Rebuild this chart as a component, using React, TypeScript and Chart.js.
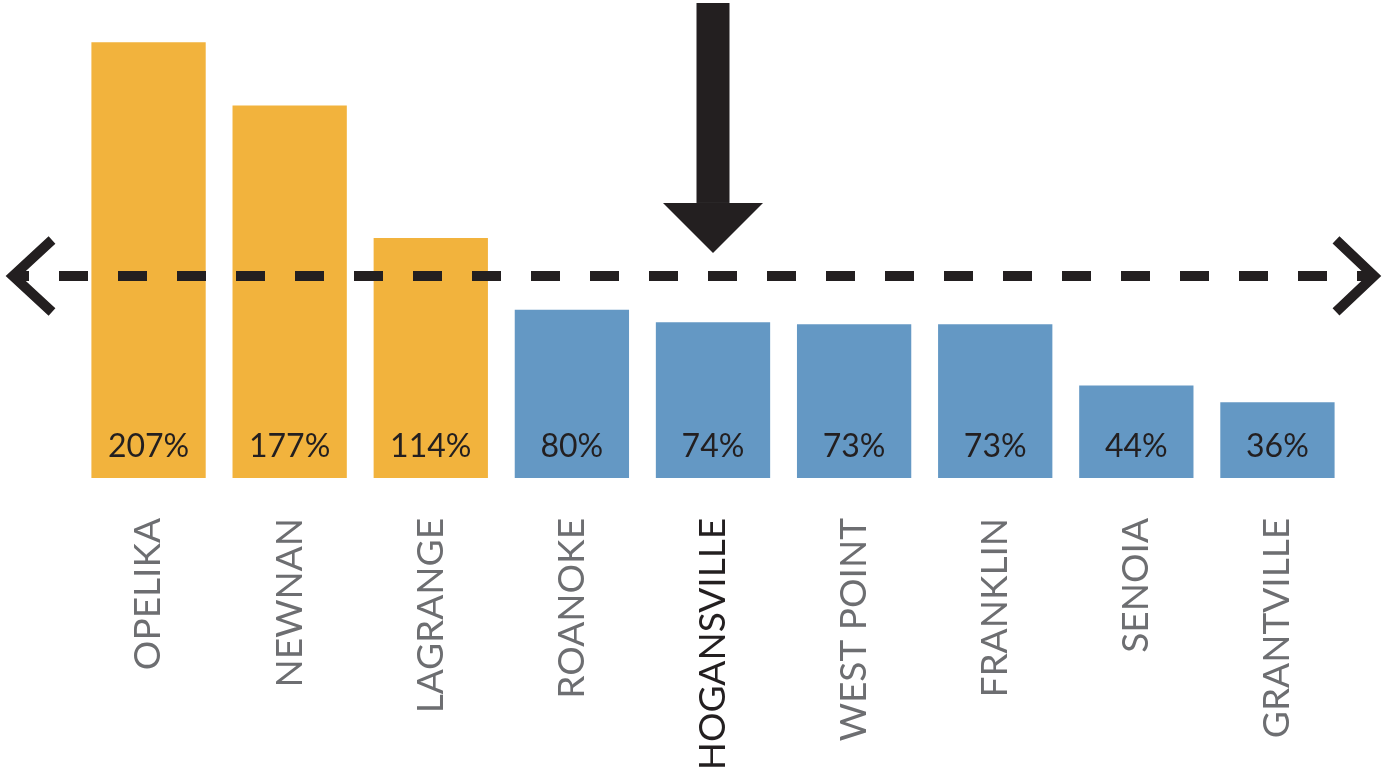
import React, { useEffect, useRef } from "react";
import { Chart, registerables } from "chart.js";

Chart.register(...registerables);

const cities = [
  "OPELIKA",
  "NEWNAN",
  "LAGRANGE",
  "ROANOKE",
  "HOGANSVILLE",
  "WEST POINT",
  "FRANKLIN",
  "SENOIA",
  "GRANTVILLE",
];
const growth = [207, 177, 114, 80, 74, 73, 73, 44, 36];
const valueLabels = ["207%", "177%", "114%", "80%", "74%", "73%", "73%", "44%", "36%"];
const ORANGE = "#F2B33D";
const BLUE = "#6498C4";
const barColors = [ORANGE, ORANGE, ORANGE, BLUE, BLUE, BLUE, BLUE, BLUE, BLUE];
const referenceValue = 96;
const highlightIndex = 4;

const INK = "#231F20";
const LABEL_GRAY = "#6D6E71";

const overlayPlugin = {
  id: "overlay",
  afterDatasetsDraw(chart: any) {
    const ctx = chart.ctx;
    const meta = chart.getDatasetMeta(0);
    const y0 = chart.scales.y.getPixelForValue(0);
    ctx.save();
    ctx.fillStyle = INK;
    ctx.font = "32px Lato";
    ctx.textAlign = "center";
    ctx.textBaseline = "middle";
    meta.data.forEach((bar: any, i: number) => {
      ctx.fillText(valueLabels[i], bar.x, y0 - 31);
    });
    ctx.restore();
  },
  afterDraw(chart: any) {
    const ctx = chart.ctx;
    const W = chart.width;
    const yRef = chart.scales.y.getPixelForValue(referenceValue);
    ctx.save();
    ctx.strokeStyle = INK;
    ctx.fillStyle = INK;
    // dashed reference line
    ctx.lineWidth = 10;
    ctx.setLineDash([29, 30]);
    ctx.lineDashOffset = 18;
    ctx.beginPath();
    ctx.moveTo(18, yRef);
    ctx.lineTo(W - 10, yRef);
    ctx.stroke();
    ctx.setLineDash([]);
    // chevrons
    ctx.lineJoin = "miter";
    ctx.lineCap = "butt";
    ctx.beginPath();
    ctx.moveTo(52, yRef - 36);
    ctx.lineTo(13, yRef);
    ctx.lineTo(52, yRef + 36);
    ctx.stroke();
    ctx.beginPath();
    ctx.moveTo(W - 47, yRef - 36);
    ctx.lineTo(W - 9, yRef);
    ctx.lineTo(W - 47, yRef + 36);
    ctx.stroke();
    // down arrow
    const ax = chart.scales.x.getPixelForValue(highlightIndex);
    const tipY = yRef - 23;
    ctx.fillRect(ax - 16.5, 3, 33, tipY - 53);
    ctx.beginPath();
    ctx.moveTo(ax - 50, tipY - 50);
    ctx.lineTo(ax + 50, tipY - 50);
    ctx.lineTo(ax, tipY);
    ctx.closePath();
    ctx.fill();
    ctx.restore();
  },
};

export default function App() {
  const canvasRef = useRef<HTMLCanvasElement>(null);
  useEffect(() => {
    if (!canvasRef.current) return;
    const chart = new Chart(canvasRef.current, {
      type: "bar",
      data: {
        labels: cities,
        datasets: [
          {
            data: growth,
            backgroundColor: barColors,
            borderWidth: 0,
            categoryPercentage: 1,
            barPercentage: 0.81,
          },
        ],
      },
      options: {
        responsive: false,
        animation: false,
        layout: { padding: { left: 78, right: 35, top: 15, bottom: 0 } },
        plugins: { legend: { display: false }, tooltip: { enabled: false } },
        scales: {
          y: { display: false, min: 0, max: 220 },
          x: {
            grid: { display: false },
            border: { display: false },
            afterFit: (scale: any) => {
              scale.height = 297;
            },
            ticks: {
              autoSkip: false,
              maxRotation: 90,
              minRotation: 90,
              padding: 32,
              font: { family: "Lato", size: 37 },
              color: (c: any) => (c.index === highlightIndex ? INK : LABEL_GRAY),
            },
          },
        },
      },
      plugins: [overlayPlugin],
    });
    return () => chart.destroy();
  }, []);
  return (
    <div style={{ position: "absolute", left: 0, top: 0, width: 1383, height: 775, background: "#fff" }}>
      <canvas ref={canvasRef} width={1383} height={775} />
    </div>
  );
}
